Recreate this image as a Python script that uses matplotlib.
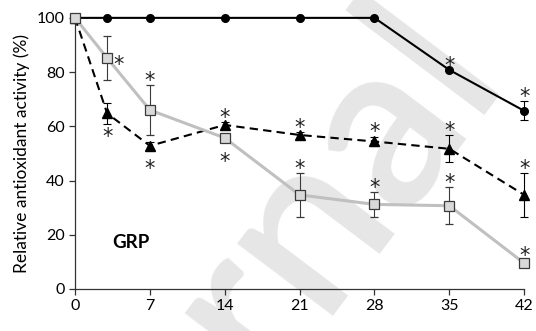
import numpy as np
import matplotlib.pyplot as plt

plt.rcParams['font.family'] = ['Lato', 'DejaVu Sans']

days = [0, 3, 7, 14, 21, 28, 35, 42]

# black circles, solid line
circ_mean = [100, 100, 100, 100, 100, 100, 80.8, 65.7]
circ_err = [0, 0, 0, 0, 0, 0, 0, 3.5]
circ_sig = ['', '', '', '', '', '', 'a', 'a']

# black triangles, dashed line
tri_mean = [100, 64.8, 52.8, 60.5, 56.8, 54.4, 51.7, 34.7]
tri_err = [0, 3.8, 1.5, 1.0, 1.0, 1.8, 5.0, 8.0]
tri_sig = ['', 'b', 'b', 'a', 'a', 'a', 'a', 'a']

# grey squares, grey line
sq_mean = [100, 85.2, 66.0, 55.7, 34.7, 31.2, 30.7, 9.5]
sq_err = [0, 8.0, 9.3, 1.0, 8.0, 4.6, 6.8, 1.0]
sq_sig = ['', 'r', 'a', 'b', 'a', 'a', 'a', 'a']

xticks = [0, 7, 14, 21, 28, 35, 42]
yticks = [0, 20, 40, 60, 80, 100]

fig = plt.figure(figsize=(5.36, 3.31), dpi=100)

# faint watermark behind the plot
fig.text(0.95, 0.76, 'Journal', fontsize=170, fontweight='semibold',
         color='#e6e6e6', rotation=53, rotation_mode='anchor', ha='right',
         va='baseline', zorder=-5)

ax = fig.add_axes([0.140, 0.127, 0.838, 0.819])
ax.set_zorder(1)
ax.patch.set_alpha(0)

ax.errorbar(days, circ_mean, yerr=circ_err, color='black', lw=1.5,
            marker='o', ms=5.5, ecolor='black', elinewidth=0.8, capsize=3,
            capthick=0.8, zorder=3, clip_on=False)
ax.errorbar(days, tri_mean, yerr=tri_err, color='black', lw=1.5, ls=(0, (4, 2.5)),
            marker='^', ms=6.5, ecolor='black', elinewidth=0.8, capsize=3,
            capthick=0.8, zorder=4, clip_on=False)
ax.errorbar(days, sq_mean, yerr=sq_err, color='#c0c0c0', lw=2.2,
            marker='s', ms=6.5, mfc='#d9d9d9', mec='#3a3a3a', mew=0.9,
            ecolor='#3a3a3a', elinewidth=0.8, capsize=3, capthick=0.8,
            zorder=5, clip_on=False)

# significance asterisks
for mean, err, sig in [(circ_mean, circ_err, circ_sig),
                       (tri_mean, tri_err, tri_sig),
                       (sq_mean, sq_err, sq_sig)]:
    for x, m, e, s in zip(days, mean, err, sig):
        if s == 'a':
            xy, off = (x, m + e), (0, 3)
        elif s == 'b':
            xy, off = (x, m), (0, -17)
        elif s == 'r':
            xy, off = (x, m), (8, -5)
        else:
            continue
        ax.annotate('*', xy=xy, xytext=off, textcoords='offset points',
                    ha='center', va='center', fontsize=15, color='#222222',
                    family='DejaVu Sans', zorder=6)

ax.text(5.2, 17.3, 'GRP', fontsize=13.5, fontweight='bold', ha='center',
        va='center')

ax.set_xlim(0, 42)
ax.set_ylim(0, 100)
ax.set_xticks(xticks)
ax.set_yticks(yticks)
ax.tick_params(direction='out', length=4, width=0.9, labelsize=11.5,
               color='#333333')
ax.spines['top'].set_visible(False)
ax.spines['right'].set_visible(False)
for s in ['left', 'bottom']:
    ax.spines[s].set_linewidth(0.9)
    ax.spines[s].set_color('#333333')
ax.set_ylabel('Relative antioxidant activity (%)', fontsize=12.5, labelpad=5)

fig.savefig('out.png', dpi=100)
